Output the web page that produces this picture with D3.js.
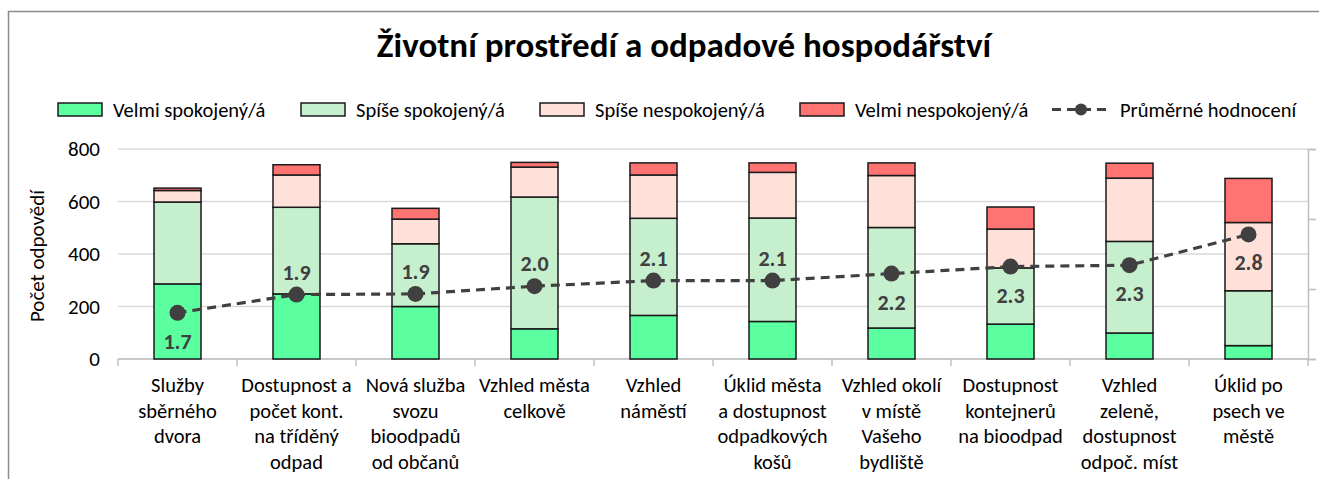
<!DOCTYPE html>
<html><head><meta charset="utf-8">
<script src="https://cdn.jsdelivr.net/npm/d3@7"></script>
<style>body{margin:0;background:#fff}svg{display:block}text{font-family:Carlito,Lato,"Open Sans",sans-serif}</style>
</head><body><svg id="c" width="1319" height="479"></svg>
<script>
const categories = [
  ["Služby","sběrného","dvora"],
  ["Dostupnost a","počet kont.","na tříděný","odpad"],
  ["Nová služba","svozu","bioodpadů","od občanů"],
  ["Vzhled města","celkově"],
  ["Vzhled","náměstí"],
  ["Úklid města","a dostupnost","odpadkových","košů"],
  ["Vzhled okolí","v místě","Vašeho","bydliště"],
  ["Dostupnost","kontejnerů","na bioodpad"],
  ["Vzhled","zeleně,","dostupnost","odpoč. míst"],
  ["Úklid po","psech ve","městě"]
];
const seriesNames = ["Velmi spokojený/á","Spíše spokojený/á","Spíše nespokojený/á","Velmi nespokojený/á"];
const velmiSpokojeny   = [286, 248, 200, 115, 166, 143, 118, 133, 99, 51];
const spiseSpokojeny   = [312, 330, 239, 502, 370, 394, 383, 214, 349, 209];
const spiseNespokojeny = [44, 123, 94, 114, 165, 174, 198, 148, 241, 260];
const velmiNespokojeny = [9, 39, 41, 18, 46, 36, 48, 84, 57, 168];
const prumer = [1.66, 1.92, 1.93, 2.04, 2.12, 2.12, 2.22, 2.32, 2.34, 2.78];
const labelAbove = [false, true, true, true, true, true, false, false, false, false];
const yTicks = [0, 200, 400, 600, 800];
const y2Ticks = [1, 2, 3, 4];
const colors = ["#5CFFA0", "#C6EFCE", "#FFE1DA", "#FF7373"];
const lineName = "Průměrné hodnocení";

const svg = d3.select("#c");
// chart border
svg.append("path").attr("d","M8.5,479 V11.5 H1319").attr("fill","none").attr("stroke","#8c8c8c").attr("stroke-width",1.5);

const L = 118, R = 1308, T = 149, B = 359;
const x = d3.scaleBand().domain(d3.range(categories.length)).range([L, R]).paddingInner(0.605).paddingOuter(0.3025);
const y = d3.scaleLinear().domain([0, 800]).range([B, T]);
const y2 = d3.scaleLinear().domain([1, 4]).range([B, T]);

// title
svg.append("text").attr("x", 684).attr("y", 57).attr("text-anchor","middle")
  .attr("font-size", 35).attr("font-weight","bold").attr("fill","#000")
  .text("Životní prostředí a odpadové hospodářství");

// gridlines
svg.append("g").selectAll("line").data(yTicks).join("line")
  .attr("x1", L).attr("x2", R).attr("y1", d => y(d)).attr("y2", d => y(d))
  .attr("stroke","#d9d9d9").attr("stroke-width",1.5);

// left axis labels
const yAxis = d3.axisLeft(y).tickValues(yTicks).tickSize(0).tickPadding(18);
const gy = svg.append("g").attr("transform",`translate(${L},0)`).call(yAxis);
gy.select(".domain").remove();
gy.selectAll("text").attr("font-size",21).attr("fill","#000").attr("font-family","Carlito,Lato,'Open Sans',sans-serif");

// right secondary axis (labels hidden)
const y2Axis = d3.axisRight(y2).tickValues(y2Ticks).tickSize(8).tickFormat("");
const gy2 = svg.append("g").attr("transform",`translate(${R},0)`).call(y2Axis);
gy2.select(".domain").attr("stroke","#bfbfbf").attr("stroke-width",1.5);
gy2.selectAll("line").attr("stroke","#bfbfbf").attr("stroke-width",1.5);

// bottom axis line with ticks at category boundaries
const step = x.step();
const boundaries = d3.range(categories.length + 1).map(i => L + i * step);
svg.append("line").attr("x1", L).attr("x2", R).attr("y1", B).attr("y2", B).attr("stroke","#bfbfbf").attr("stroke-width",1.5);
svg.append("g").selectAll("line").data(boundaries).join("line")
  .attr("x1", d => d).attr("x2", d => d).attr("y1", B).attr("y2", B + 7)
  .attr("stroke","#bfbfbf").attr("stroke-width",1.5);

// stacked bars
const rows = categories.map((c, i) => ({i, v0: velmiSpokojeny[i], v1: spiseSpokojeny[i], v2: spiseNespokojeny[i], v3: velmiNespokojeny[i]}));
const stack = d3.stack().keys(["v0","v1","v2","v3"])(rows);
stack.forEach((layer, k) => {
  svg.append("g").selectAll("rect").data(layer).join("rect")
    .attr("x", d => x(d.data.i)).attr("width", x.bandwidth())
    .attr("y", d => y(d[1])).attr("height", d => y(d[0]) - y(d[1]))
    .attr("fill", colors[k]).attr("stroke","#1a1a1a").attr("stroke-width",1.5);
});

// category labels
const cl = svg.append("g");
categories.forEach((lines, i) => {
  const t = cl.append("text").attr("text-anchor","middle").attr("font-size",20.5).attr("fill","#000");
  lines.forEach((ln, j) => t.append("tspan").attr("x", x(i) + x.bandwidth()/2).attr("y", 392 + j*25.7).text(ln));
});

// y axis title
svg.append("text").attr("transform","translate(44,256) rotate(-90)").attr("text-anchor","middle")
  .attr("font-size",21).attr("fill","#000").text("Počet odpovědí");

// average line
const cx = i => x(i) + x.bandwidth()/2;
const line = d3.line().x((d, i) => cx(i)).y(d => y2(d));
svg.append("path").datum(prumer).attr("d", line).attr("fill","none")
  .attr("stroke","#404040").attr("stroke-width",3.2).attr("stroke-dasharray","9,6");
svg.append("g").selectAll("circle").data(prumer).join("circle")
  .attr("cx", (d, i) => cx(i)).attr("cy", d => y2(d)).attr("r", 8).attr("fill","#404040");
svg.append("g").selectAll("text").data(prumer).join("text")
  .attr("x", (d, i) => cx(i)).attr("y", (d, i) => y2(d) + (labelAbove[i] ? -15 : 36))
  .attr("text-anchor","middle").attr("font-size",22).attr("font-weight","bold").attr("fill","#404040")
  .text(d => d.toFixed(1));

// legend
const lg = svg.append("g");
const legendX = [58, 301, 540, 800];
seriesNames.forEach((n, k) => {
  lg.append("rect").attr("x", legendX[k]).attr("y", 103).attr("width", 44).attr("height", 13)
    .attr("fill", colors[k]).attr("stroke","#1a1a1a").attr("stroke-width",1.5);
  lg.append("text").attr("x", legendX[k] + 55).attr("y", 117).attr("font-size",20.5).attr("fill","#000").text(n);
});
lg.append("line").attr("x1",1052).attr("x2",1110).attr("y1",109.5).attr("y2",109.5)
  .attr("stroke","#404040").attr("stroke-width",3.2).attr("stroke-dasharray","9,6");
lg.append("circle").attr("cx",1081).attr("cy",109.5).attr("r",6).attr("fill","#404040");
lg.append("text").attr("x",1120).attr("y",117).attr("font-size",20.5).attr("fill","#000").text(lineName);
</script></body></html>
